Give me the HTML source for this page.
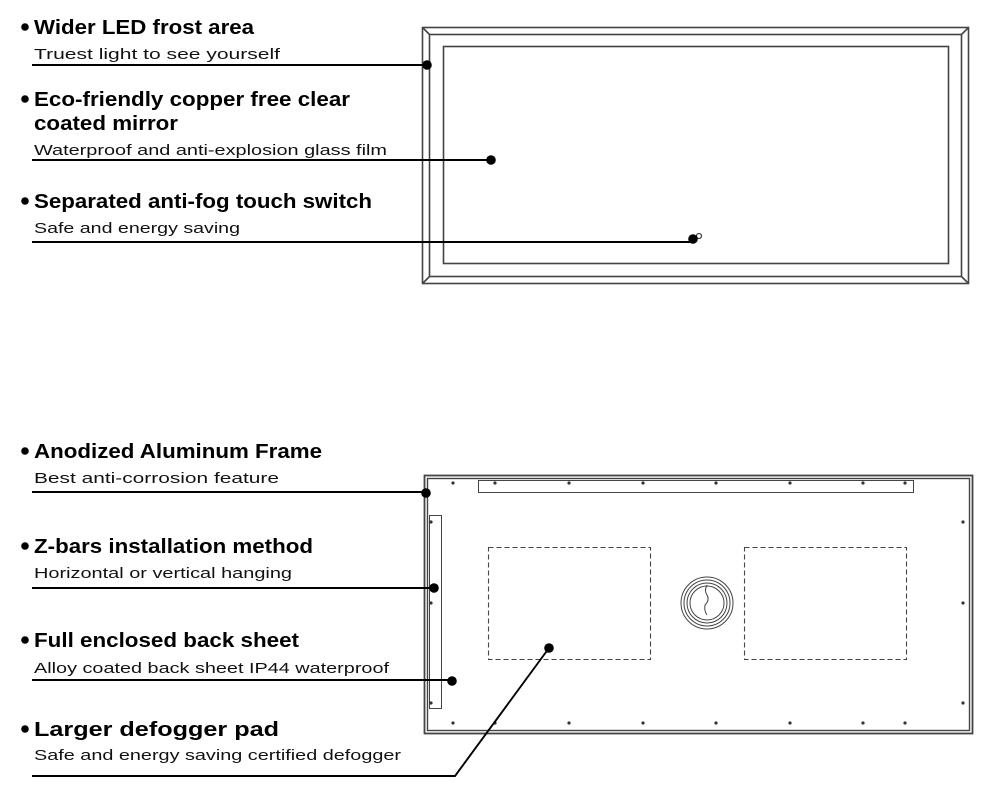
<!DOCTYPE html>
<html><head><meta charset="utf-8"><style>html,body{margin:0;padding:0;background:#fff}svg{display:block}</style></head>
<body>
<svg width="990" height="800" viewBox="0 0 990 800" xmlns="http://www.w3.org/2000/svg" font-family="Liberation Sans, Arial, sans-serif">
<g font-weight="bold" font-size="20" fill="#000">
<circle cx="25" cy="27" r="3.8"/><text x="34" y="34" textLength="220" lengthAdjust="spacingAndGlyphs">Wider LED frost area</text>
<circle cx="25" cy="99" r="3.8"/><text x="34" y="106" textLength="316" lengthAdjust="spacingAndGlyphs">Eco-friendly copper free clear</text>
<text x="34" y="130" textLength="144" lengthAdjust="spacingAndGlyphs">coated mirror</text>
<circle cx="25" cy="201" r="3.8"/><text x="34" y="208" textLength="338" lengthAdjust="spacingAndGlyphs">Separated anti-fog touch switch</text>
<circle cx="25" cy="451" r="3.8"/><text x="34" y="458" textLength="288" lengthAdjust="spacingAndGlyphs">Anodized Aluminum Frame</text>
<circle cx="25" cy="546" r="3.8"/><text x="34" y="553" textLength="279" lengthAdjust="spacingAndGlyphs">Z-bars installation method</text>
<circle cx="25" cy="640" r="3.8"/><text x="34" y="647" textLength="265" lengthAdjust="spacingAndGlyphs">Full enclosed back sheet</text>
<circle cx="25" cy="729" r="3.8"/><text x="34" y="736" textLength="245" lengthAdjust="spacingAndGlyphs">Larger defogger pad</text>
</g>
<g font-size="15" fill="#111">
<text x="34" y="59" textLength="246" lengthAdjust="spacingAndGlyphs">Truest light to see yourself</text>
<text x="34" y="155" textLength="353" lengthAdjust="spacingAndGlyphs">Waterproof and anti-explosion glass film</text>
<text x="34" y="233" textLength="206" lengthAdjust="spacingAndGlyphs">Safe and energy saving</text>
<text x="34" y="483" textLength="245" lengthAdjust="spacingAndGlyphs">Best anti-corrosion feature</text>
<text x="34" y="578" textLength="258" lengthAdjust="spacingAndGlyphs">Horizontal or vertical hanging</text>
<text x="34" y="673" textLength="355" lengthAdjust="spacingAndGlyphs">Alloy coated back sheet IP44 waterproof</text>
<text x="34" y="760" textLength="367" lengthAdjust="spacingAndGlyphs">Safe and energy saving certified defogger</text>
</g>
<!-- top mirror -->
<g fill="none" stroke="#444" stroke-width="1.6">
<rect x="422.5" y="27.5" width="546" height="256"/>
<rect x="429.5" y="34.5" width="532" height="242"/>
<rect x="443.5" y="46.5" width="505" height="217"/>
<line x1="422.5" y1="27.5" x2="429.5" y2="34.5"/><line x1="968.5" y1="27.5" x2="961.5" y2="34.5"/>
<line x1="422.5" y1="283.5" x2="429.5" y2="276.5"/><line x1="968.5" y1="283.5" x2="961.5" y2="276.5"/>
<circle cx="699" cy="236" r="2.5" stroke-width="1.3"/>
</g>
<!-- bottom mirror -->
<g fill="none" stroke="#444">
<rect x="424.5" y="475.5" width="548" height="258" stroke-width="1.8"/>
<rect x="427.5" y="478.5" width="542" height="252" stroke-width="1.4"/>
<rect x="478.5" y="480.5" width="435" height="12" stroke-width="1"/>
<rect x="429.5" y="515.5" width="12" height="193" stroke-width="1"/>
<rect x="488.5" y="547.5" width="162" height="112" stroke-dasharray="5,3" stroke-width="1.1"/>
<rect x="744.5" y="547.5" width="162" height="112" stroke-dasharray="5,3" stroke-width="1.1"/>
<circle cx="707" cy="603" r="26" stroke-width="1"/>
<circle cx="707" cy="603" r="23" stroke-width="1"/>
<circle cx="707" cy="603" r="20" stroke-width="1"/>
<circle cx="707" cy="603" r="17" stroke-width="1"/>
<path d="M707 585 q-3 6 0 10 q3 5 -2 10 q-1 6 2 10" stroke-width="1"/>
</g>
<g fill="#333">
<circle cx="453" cy="483" r="1.6"/><circle cx="495" cy="483" r="1.6"/><circle cx="569" cy="483" r="1.6"/><circle cx="643" cy="483" r="1.6"/><circle cx="716" cy="483" r="1.6"/><circle cx="790" cy="483" r="1.6"/><circle cx="863" cy="483" r="1.6"/><circle cx="905" cy="483" r="1.6"/>
<circle cx="453" cy="723" r="1.6"/><circle cx="495" cy="723" r="1.6"/><circle cx="569" cy="723" r="1.6"/><circle cx="643" cy="723" r="1.6"/><circle cx="716" cy="723" r="1.6"/><circle cx="790" cy="723" r="1.6"/><circle cx="863" cy="723" r="1.6"/><circle cx="905" cy="723" r="1.6"/>
<circle cx="431" cy="522" r="1.6"/><circle cx="431" cy="603" r="1.6"/><circle cx="431" cy="703" r="1.6"/>
<circle cx="963" cy="522" r="1.6"/><circle cx="963" cy="603" r="1.6"/><circle cx="963" cy="703" r="1.6"/>
</g>
<!-- leader lines -->
<g stroke="#000" stroke-width="1.9" fill="none">
<line x1="32" y1="65" x2="427" y2="65"/>
<line x1="32" y1="160" x2="491" y2="160"/>
<line x1="32" y1="242" x2="693" y2="242"/>
<line x1="32" y1="492" x2="426" y2="492"/>
<line x1="32" y1="588" x2="434" y2="588"/>
<line x1="32" y1="680" x2="452" y2="680"/>
<polyline points="32,776 455,776 549,648"/>
</g>
<g fill="#000">
<circle cx="427" cy="65" r="4.8"/><circle cx="491" cy="160" r="4.8"/><circle cx="693" cy="239" r="4.8"/>
<circle cx="426" cy="493" r="4.8"/><circle cx="434" cy="588" r="4.8"/><circle cx="452" cy="681" r="4.8"/><circle cx="549" cy="648" r="4.8"/>
</g>
</svg>
</body></html>
